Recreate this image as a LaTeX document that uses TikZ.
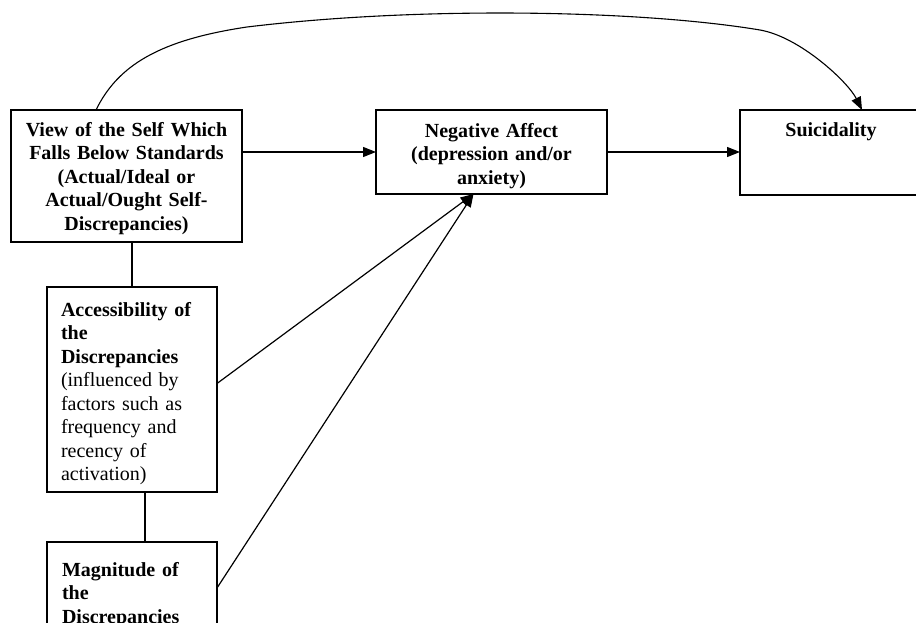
\documentclass[tikz,border=0pt]{standalone}
\usepackage{fontspec}
\setmainfont{Liberation Serif}
\usetikzlibrary{arrows.meta}
\begin{document}
\begin{tikzpicture}[x=1pt,y=-1pt,
  box/.style={draw, line width=1.3pt, rectangle, inner sep=0pt, outer sep=0pt},
  boxtext/.style={inner sep=0pt, outer sep=0pt, font=\fontsize{20}{23.5}\selectfont},
  conn/.style={line width=1.2pt},
  arr/.style={conn, -{Triangle[length=13pt,width=10pt]}}]
\useasboundingbox (0,0) rectangle (916,623);
\fill[white] (0,0) rectangle (916,623);

% boxes
\node[box, minimum width=231pt, minimum height=132pt] (b1) at (126.5,176) {};
\node[box, minimum width=231pt, minimum height=84pt]  (b2) at (491.5,152) {};
\node[box, minimum width=182pt, minimum height=85pt]  (b3) at (831,152.5) {};
\node[box, minimum width=170pt, minimum height=205pt] (b4) at (132,389.5) {};
\node[box, minimum width=170pt, minimum height=108pt] (b5) at (132,596) {};

% box texts
\node[boxtext, anchor=north, text width=231pt, align=center] (t1)
  at ([yshift=-10pt]b1.north)
  {\bfseries\strut View of the Self Which\\ Falls Below Standards\\ (Actual/Ideal or\\ Actual/Ought Self-\\ Discrepancies)};
\node[boxtext, anchor=north, text width=231pt, align=center] (t2)
  at ([yshift=-11pt]b2.north)
  {\bfseries\strut Negative Affect\\ (depression and/or\\ anxiety)};
\node[boxtext, anchor=north, text width=182pt, align=center] (t3)
  at ([yshift=-10pt]b3.north)
  {\bfseries\strut Suicidality};
\node[boxtext, anchor=north west, text width=156pt, align=left] (t4)
  at ([xshift=14pt,yshift=-13pt]b4.north west)
  {\strut\textbf{Accessibility of}\\ \textbf{the}\\ \textbf{Discrepancies}\\ (influenced by\\ factors such as\\ frequency and\\ recency of\\ activation)};
\node[boxtext, anchor=north west, text width=156pt, align=left] (t5)
  at ([xshift=15pt,yshift=-18pt]b5.north west)
  {\bfseries\strut Magnitude of\\ the\\ Discrepancies};

% connectors
\draw[conn] (b4.north |- b1.south) -- (b4.north);
\draw[conn] ([xshift=13pt]b4.south) -- ([xshift=13pt]b5.north);
\draw[arr] (b1.east |- b2.west) -- (b2.west);
\draw[arr] (b2.east) -- (b3.west |- b2.east);
\draw[arr] ([yshift=6pt]b4.east) -- ([xshift=-18pt]b2.south);
\draw[arr] ([yshift=-46pt]b5.north east) -- ([xshift=-18pt]b2.south);
\draw[arr, line width=1.1pt] ([xshift=85pt]b1.north west)
  .. controls (118,65) and (160,40) .. (247,27)
  .. controls (420,6) and (640,10) .. (760,30)
  .. controls (800,37) and (848,82) .. ([xshift=122pt]b3.north west);
\end{tikzpicture}
\end{document}
